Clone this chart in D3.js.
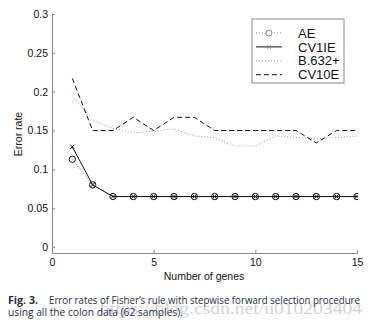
<!DOCTYPE html>
<html><head><meta charset="utf-8">
<script src="https://cdn.jsdelivr.net/npm/d3@7"></script>
<style>html,body{margin:0;padding:0;background:#fff;}svg{display:block;}</style>
</head><body>
<svg id="chart" width="377" height="327"></svg>
<script>
const genes = [1,2,3,4,5,6,7,8,9,10,11,12,13,14,15];
const AE     = [0.113,0.080,0.065,0.065,0.065,0.065,0.065,0.065,0.065,0.065,0.065,0.065,0.065,0.065,0.065];
const CV1IE  = [0.129,0.080,0.065,0.065,0.065,0.065,0.065,0.065,0.065,0.065,0.065,0.065,0.065,0.065,0.065];
const B632   = [0.195,0.163,0.153,0.147,0.149,0.152,0.143,0.141,0.130,0.130,0.143,0.141,0.139,0.141,0.143];
const CV10E  = [0.217,0.150,0.150,0.167,0.150,0.167,0.167,0.150,0.150,0.150,0.150,0.150,0.134,0.150,0.150];
const xTicks = [0,5,10,15];
const yTicks = [0,0.05,0.1,0.15,0.2,0.25,0.3];
const legendLabels = ["AE","CV1IE","B.632+","CV10E"];

const svg = d3.select("#chart");
const x = d3.scaleLinear().domain([0,15]).range([52,357]);
const y = d3.scaleLinear().domain([-0.0077,0.3]).range([253,14]);
const axisColor = "#8a8a8a";
const font = "'Liberation Sans', Arial, sans-serif";

// axes
const gx = svg.append("g").attr("transform","translate(0,253)")
  .call(d3.axisBottom(x).tickValues(xTicks).tickSize(-3).tickPadding(7).tickFormat(d3.format("d")));
const gy = svg.append("g").attr("transform","translate(52,0)")
  .call(d3.axisLeft(y).tickValues(yTicks).tickSize(-3).tickPadding(4).tickFormat(d => d===0?"0":String(d)));
[gx,gy].forEach(g=>{
  g.select(".domain").attr("stroke",axisColor).attr("stroke-width",1);
  g.selectAll(".tick line").attr("stroke",axisColor);
  g.selectAll("text").attr("fill","#111").style("font-family",font).style("font-size","10.5px");
});
gx.selectAll("text").attr("dy","0.6em");

svg.append("text").attr("x",204).attr("y",279.5).attr("text-anchor","middle")
  .style("font-family",font).style("font-size","10.5px").attr("fill","#111").text("Number of genes");
svg.append("text").attr("transform","translate(22,134) rotate(-90)").attr("text-anchor","middle")
  .style("font-family",font).style("font-size","10.5px").attr("fill","#111").text("Error rate");

// clip
svg.append("clipPath").attr("id","clip").append("rect").attr("x",52).attr("y",0).attr("width",306).attr("height",253);
const plot = svg.append("g").attr("clip-path","url(#clip)");

const line = d3.line().x((d,i)=>x(genes[i])).y(d=>y(d));

plot.append("path").datum(B632).attr("d",line).attr("fill","none")
  .attr("stroke","#9a9a9a").attr("stroke-width",1).attr("stroke-dasharray","1,2");
plot.append("path").datum(CV10E).attr("d",line).attr("fill","none")
  .attr("stroke","#111").attr("stroke-width",1).attr("stroke-dasharray","5,3");
plot.append("path").datum(AE).attr("d",line).attr("fill","none")
  .attr("stroke","#888").attr("stroke-width",1).attr("stroke-dasharray","1,2");
plot.append("path").datum(CV1IE).attr("d",line).attr("fill","none")
  .attr("stroke","#111").attr("stroke-width",1);

// AE circles
plot.selectAll("circle.ae").data(AE).enter().append("circle").attr("class","ae")
  .attr("cx",(d,i)=>x(genes[i])).attr("cy",d=>y(d)).attr("r",3.2)
  .attr("fill","none").attr("stroke","#111").attr("stroke-width",1);
// CV1IE x markers
const cross = d3.symbol().type(d3.symbolX).size(14);
plot.selectAll("path.cv").data(CV1IE).enter().append("path").attr("class","cv")
  .attr("transform",(d,i)=>`translate(${x(genes[i])},${y(d)})`)
  .attr("d",cross).attr("fill","none").attr("stroke","#111").attr("stroke-width",1);

// legend
const lg = svg.append("g");
lg.append("rect").attr("x",252).attr("y",19).attr("width",92).attr("height",64)
  .attr("fill","#fff").attr("stroke","#8a8a8a").attr("stroke-width",1);
const styles = [
  {stroke:"#888",dash:"1,2",marker:"circle"},
  {stroke:"#111",dash:null,marker:"x"},
  {stroke:"#9a9a9a",dash:"1,2",marker:null},
  {stroke:"#111",dash:"5,3",marker:null}
];
legendLabels.forEach((lab,i)=>{
  const cy = 33 + i*13.9;
  const l = lg.append("line").attr("x1",256).attr("x2",282).attr("y1",cy).attr("y2",cy)
    .attr("stroke",styles[i].stroke).attr("stroke-width",1);
  if(styles[i].dash) l.attr("stroke-dasharray",styles[i].dash);
  if(styles[i].marker==="circle"){
    lg.append("circle").attr("cx",269).attr("cy",cy).attr("r",3).attr("fill","#fff").attr("stroke","#888");
  } else if(styles[i].marker==="x"){
    lg.append("path").attr("transform",`translate(269,${cy})`).attr("d",d3.symbol().type(d3.symbolX).size(10))
      .attr("fill","none").attr("stroke","#888");
  }
  lg.append("text").attr("x",298).attr("y",cy+4.6).style("font-family",font).style("font-size","13px")
    .attr("fill","#111").text(lab);
});

// watermark
svg.append("text").attr("x",100).attr("y",314).attr("textLength",262).attr("lengthAdjust","spacingAndGlyphs")
  .style("font-family","'Liberation Serif', serif").style("font-size","16px").attr("fill","#d4d4d4")
  .text("https://blog.csdn.net/u010203404");

// caption
const capColor = "#25304a";
const capFont = "'Open Sans', 'Noto Sans', sans-serif";
svg.append("text").attr("x",8).attr("y",304).style("font-family",capFont).style("font-size","10px")
  .style("font-weight","bold").attr("fill",capColor).attr("textLength",30).attr("lengthAdjust","spacingAndGlyphs").text("Fig. 3.");
svg.append("text").attr("x",49).attr("y",304).style("font-family",capFont).style("font-size","10px")
  .attr("fill",capColor).attr("textLength",311).attr("lengthAdjust","spacingAndGlyphs")
  .text("Error rates of Fisher\u2019s rule with stepwise forward selection procedure");
svg.append("text").attr("x",8).attr("y",316).style("font-family",capFont).style("font-size","10px")
  .attr("fill",capColor).attr("textLength",175).attr("lengthAdjust","spacingAndGlyphs")
  .text("using all the colon data (62 samples).");
</script>
</body></html>
